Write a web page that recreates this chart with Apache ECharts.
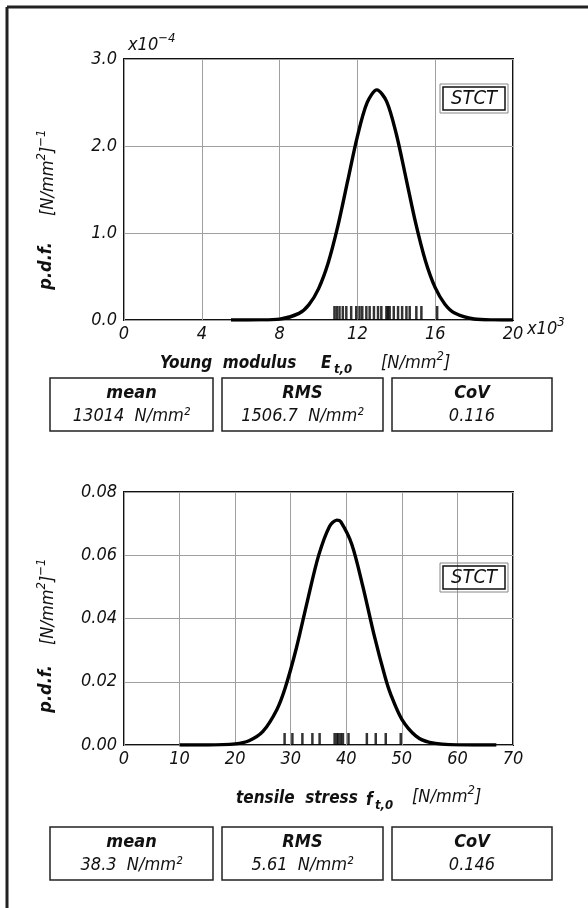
<!DOCTYPE html>
<html lang="en">
<head>
  <meta charset="UTF-8">
  <title>STCT p.d.f.</title>
  <script src="https://cdn.jsdelivr.net/npm/echarts@6.0.0/dist/echarts.min.js"></script>
  <style>
    html, body { margin: 0; padding: 0; background: #fff; }
  </style>
</head>
<body>
<div id="chart" style="width: 588px; height: 908px;"></div>

<script>
  var FONT = "'DejaVu Sans Condensed', 'Liberation Sans Narrow', 'DejaVu Sans', sans-serif";

  // Young modulus chart: x in 10^3 N/mm2, y in 10^-4
  var eX = [5.5, 7, 8, 9, 9.5, 10, 10.5, 11, 11.5, 12, 12.5, 13, 13.5, 14, 14.5, 15, 15.5, 16, 16.5, 17, 18, 19, 20];
  var eY = [0, 0.001, 0.01, 0.076, 0.174, 0.358, 0.658, 1.084, 1.598, 2.111, 2.498, 2.645, 2.513, 2.138, 1.629,
            1.11, 0.679, 0.372, 0.182, 0.08, 0.011, 0.001, 0];
  var eRug = [10.82, 10.94, 11.08, 11.25, 11.43, 11.68, 11.94, 12.11, 12.25, 12.46, 12.63, 12.85,
              13.06, 13.23, 13.49, 13.57, 13.66, 13.87, 14.09, 14.3, 14.52, 14.69, 15.03, 15.29, 16.1];
  var eStats = ['13014  N/mm²', '1506.7  N/mm²', '0.116'];

  // tensile stress chart
  var fX = [10, 15, 20, 22.5, 25, 27.5, 29, 31, 33, 35, 37, 38.3, 39, 41, 43, 45, 47, 48, 50, 52.5, 55, 60, 67];
  var fY = [0, 0.00001, 0.00035, 0.00135, 0.00428, 0.01115, 0.018, 0.0305, 0.0455, 0.0598, 0.0692, 0.0711,
            0.0706, 0.0634, 0.05, 0.0348, 0.0214, 0.016, 0.0081, 0.0029, 0.00085, 0.00004, 0];
  var fRug = [28.9, 30.3, 32.1, 33.9, 35.2, 37.9, 38.3, 38.6, 39.0, 39.4, 40.4, 43.7, 45.3, 47.1, 49.8];
  var fStats = ['38.3  N/mm²', '5.61  N/mm²', '0.146'];

  var statTitles = ['mean', 'RMS', 'CoV'];

  function zip(a, b) {
    return a.map(function (v, i) { return [v, b[i]]; });
  }

  var chart = echarts.init(document.getElementById('chart'));

  var labelStyle = { fontFamily: FONT, fontStyle: 'italic', fontSize: 18, color: '#111' };

  function xAxis(idx, max, step) {
    return {
      gridIndex: idx, type: 'value', min: 0, max: max, interval: step,
      axisLine: { show: false }, axisTick: { show: false },
      splitLine: { lineStyle: { color: '#a0a0a0', width: 1 } },
      axisLabel: Object.assign({ margin: 5 }, labelStyle)
    };
  }
  function yAxis(idx, max, step, digits) {
    return {
      gridIndex: idx, type: 'value', min: 0, max: max, interval: step,
      axisLine: { show: false }, axisTick: { show: false },
      splitLine: { lineStyle: { color: '#a0a0a0', width: 1 } },
      axisLabel: Object.assign({ margin: 7, formatter: function (v) { return v.toFixed(digits); } }, labelStyle)
    };
  }

  var rich = {
    sup: { fontFamily: FONT, fontStyle: 'italic', fontSize: 13, verticalAlign: 'top', lineHeight: 22, fill: '#111' },
    n: { fontFamily: FONT, fontStyle: 'italic', fontSize: 18, verticalAlign: 'bottom', lineHeight: 22, fill: '#111' }
  };

  // graphic helpers
  var g = [];
  function text(x, y, str, opt) {
    g.push({
      type: 'text', x: x, y: y, rotation: opt && opt.rot || 0, z: 10,
      style: {
        text: str, fontFamily: FONT, fontStyle: 'italic',
        fontWeight: opt && opt.bold ? 'bold' : 'normal',
        fontSize: opt && opt.size || 18, fill: '#111',
        align: opt && opt.align || 'left', verticalAlign: 'middle',
        rich: rich
      }
    });
  }
  function rect(x, y, w, h, lw, color) {
    g.push({ type: 'rect', shape: { x: x, y: y, width: w, height: h }, z: 9,
      style: { fill: 'transparent', stroke: color || '#222', lineWidth: lw || 1.5 } });
  }
  function statBoxes(y, vals) {
    var xs = [50, 222, 392];
    var ws = [163, 161, 160];
    for (var i = 0; i < 3; i++) {
      rect(xs[i], y, ws[i], 53, 1.5);
      text(xs[i] + ws[i] / 2, y + 15, statTitles[i], { bold: true, align: 'center' });
      text(xs[i] + ws[i] / 2, y + 38, vals[i], { align: 'center' });
    }
  }
  function tag(x, y) {
    rect(x, y, 68, 29, 1, '#888');
    rect(x + 3, y + 3, 62, 23, 1.5, '#111');
    text(x + 34, y + 15, 'STCT', { align: 'center', size: 20 });
  }
  function yName(xc, yPdf, yUnit) {
    text(xc, yPdf, 'p.d.f.', { rot: Math.PI / 2, bold: true, align: 'right', size: 18 });
    text(xc, yUnit, '{n|[N/mm}{sup|2}{n|]}{sup|−1}', { rot: Math.PI / 2, align: 'left' });
  }

  // frame edges of the scanned page
  g.push({ type: 'line', shape: { x1: 7, y1: 7, x2: 588, y2: 7 }, style: { stroke: '#222', lineWidth: 3 } });
  g.push({ type: 'line', shape: { x1: 7, y1: 7, x2: 7, y2: 908 }, style: { stroke: '#222', lineWidth: 3 } });

  // top chart texts
  text(128, 43, '{n|x10}{sup|−4}');
  text(527, 327, '{n|x10}{sup|3}');
  yName(46, 242, 216);
  text(160, 364, 'Young  modulus', { bold: true, size: 17 });
  text(321, 364, 'E', { bold: true, size: 17 });
  text(334, 370, 't,0', { bold: true, size: 13 });
  text(381, 361, '{n|[N/mm}{sup|2}{n|]}');
  statBoxes(378, eStats);
  tag(440, 84);

  // bottom chart texts
  yName(46, 665, 645);
  text(236, 799, 'tensile  stress', { bold: true, size: 17 });
  text(366, 801, 'f', { bold: true, size: 17 });
  text(375, 806, 't,0', { bold: true, size: 13 });
  text(412, 795, '{n|[N/mm}{sup|2}{n|]}');
  statBoxes(827, fStats);
  tag(440, 563);

  var option = {
    animation: false,
    backgroundColor: '#fff',
    grid: [
      { left: 124, top: 59, width: 389, height: 261, show: true, borderColor: '#111', borderWidth: 2, backgroundColor: 'transparent' },
      { left: 124, top: 492, width: 389, height: 253, show: true, borderColor: '#111', borderWidth: 2, backgroundColor: 'transparent' }
    ],
    xAxis: [xAxis(0, 20, 4), xAxis(1, 70, 10)],
    yAxis: [yAxis(0, 3, 1, 1), yAxis(1, 0.08, 0.02, 2)],
    series: [
      {
        type: 'line', xAxisIndex: 0, yAxisIndex: 0, data: zip(eX, eY),
        smooth: 0.3, showSymbol: false, lineStyle: { color: '#000', width: 3.4 }
      },
      {
        type: 'scatter', xAxisIndex: 0, yAxisIndex: 0,
        data: eRug.map(function (v) { return [v, 0]; }),
        symbol: 'rect', symbolSize: [2.5, 14], symbolOffset: [0, '-50%'],
        itemStyle: { color: '#000' }
      },
      {
        type: 'line', xAxisIndex: 1, yAxisIndex: 1, data: zip(fX, fY),
        smooth: 0.3, showSymbol: false, lineStyle: { color: '#000', width: 3.4 }
      },
      {
        type: 'scatter', xAxisIndex: 1, yAxisIndex: 1,
        data: fRug.map(function (v) { return [v, 0]; }),
        symbol: 'rect', symbolSize: [2.5, 12], symbolOffset: [0, '-50%'],
        itemStyle: { color: '#000' }
      }
    ],
    graphic: g
  };

  chart.setOption(option);
</script>
</body>
</html>
